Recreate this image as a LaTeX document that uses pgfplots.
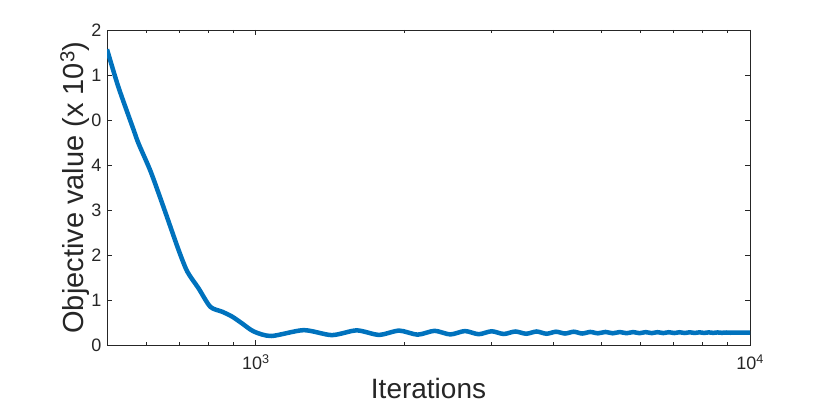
\documentclass[border=0pt]{standalone}
\usepackage{pgfplots}
\pgfplotsset{compat=1.18}
\usepackage{fontspec}
\setmainfont{Liberation Sans}
\definecolor{mblue}{RGB}{0,114,189}
\definecolor{axgray}{RGB}{38,38,38}
\begin{document}
\begin{tikzpicture}[x=1pt,y=1pt]
\begin{axis}[
  at={(0,0)}, anchor=south west,
  scale only axis, width=643pt, height=315pt,
  xmode=log, xmin=500, xmax=10000,
  ymin=0, ymax=7,
  xtick={1000,10000},
  xticklabels={10\textsuperscript{3},10\textsuperscript{4}},
  minor xtick={600,700,800,900,2000,3000,4000,5000,6000,7000,8000,9000},
  ytick={0,1,2,3,4,5,6,7},
  yticklabels={0,1,2,3,4,0,1,2},
  tick align=inside,
  major tick length=5pt, minor tick length=3pt,
  axis line style={axgray, line width=0.6pt},
  every tick/.style={axgray, line width=0.6pt},
  tick label style={font=\fontsize{18}{20}\selectfont, text=axgray},
  /pgf/number format/assume math mode=true,
  xlabel={Iterations},
  ylabel={Objective value (x 10\textsuperscript{3})},
  label style={font=\fontsize{28}{30}\selectfont, text=axgray},
  ylabel style={font=\fontsize{29}{31}\selectfont, at={(axis description cs:0,0.5)}, anchor=south, yshift=14pt},
  xlabel style={at={(axis description cs:0.5,0)}, anchor=north, yshift=-30pt},
  xticklabel style={yshift=-6pt},
  yticklabel style={xshift=-2pt},
  clip=true,
]
\addplot[mblue, line width=4.5pt, smooth, tension=0.45] coordinates {
(500,6.57) (527,5.74) (566,4.78) (579,4.48) (611,3.89) (636,3.37) (661,2.85)
(698,2.11) (727,1.63) (766,1.26) (809,0.85) (855,0.74) (896,0.63) (938,0.48)
(991,0.30) (1075,0.20) (1250,0.33) (1425,0.22) (1600,0.325) (1775,0.225)
(1950,0.32) (2125,0.23) (2300,0.315) (2475,0.235) (2650,0.31) (2825,0.24)
(3000,0.305) (3175,0.245) (3350,0.30) (3525,0.25) (3700,0.30) (3875,0.25)
(4050,0.295) (4225,0.255) (4400,0.295) (4575,0.255) (4750,0.29) (4925,0.26)
(5100,0.29) (5275,0.26) (5450,0.288) (5625,0.262) (5800,0.287) (5975,0.263)
(6150,0.286) (6325,0.264) (6500,0.285) (6675,0.265) (6850,0.284) (7025,0.266)
(7200,0.283) (7375,0.267) (7550,0.282) (7725,0.268) (7900,0.281) (8075,0.269)
(8250,0.280) (8425,0.270) (8600,0.279) (8775,0.271) (8950,0.278) (9125,0.272)
(9300,0.277) (9475,0.273) (9650,0.276) (9825,0.274) (10000,0.275)
};
\end{axis}
\pgfresetboundingbox
\path[use as bounding box] (-107pt,-62pt) rectangle (723pt,345pt);
\end{tikzpicture}
\end{document}
